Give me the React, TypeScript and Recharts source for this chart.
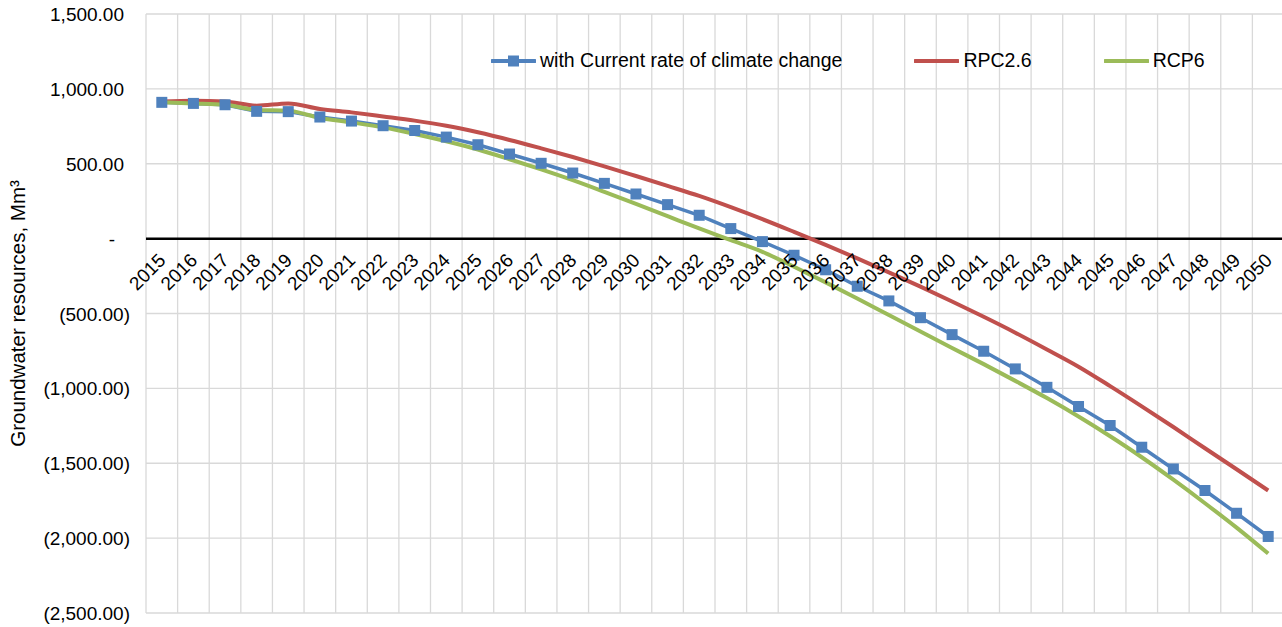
import React from "react"
import { LineChart, Line, XAxis, YAxis, CartesianGrid, ReferenceLine } from "recharts"

const years = [
  "2015", "2016", "2017", "2018", "2019", "2020", "2021", "2022", "2023", "2024", "2025", "2026",
  "2027", "2028", "2029", "2030", "2031", "2032", "2033", "2034", "2035", "2036", "2037", "2038",
  "2039", "2040", "2041", "2042", "2043", "2044", "2045", "2046", "2047", "2048", "2049", "2050",
]

const currentRate = [
  910, 903, 894, 850, 848, 812, 785, 754, 722, 678, 627, 565,
  503, 438, 369, 298, 227, 156, 67, -20, -111, -208, -318, -416,
  -528, -641, -752, -870, -993, -1121, -1248, -1393, -1538, -1682, -1834, -1989,
]

const rpc26 = [
  916, 921, 916, 888, 903, 866, 843, 816, 788, 754, 710, 659,
  603, 545, 483, 418, 352, 285, 210, 130, 45, -42, -132, -225,
  -321, -420, -522, -628, -740, -855, -985, -1120, -1258, -1400, -1540, -1682,
]

const rcp6 = [
  910, 903, 894, 859, 854, 806, 776, 743, 699, 650, 595, 530,
  462, 390, 312, 232, 150, 68, -10, -88, -188, -292, -400, -510,
  -620, -730, -838, -950, -1065, -1188, -1320, -1460, -1610, -1767, -1930, -2103,
]

const yTicks = [-2500, -2000, -1500, -1000, -500, 0, 500, 1000, 1500]

const series = [
  { key: "current", name: "with Current rate of climate change", color: "#4F81BD", marker: true },
  { key: "rpc26", name: "RPC2.6", color: "#C0504D", marker: false },
  { key: "rcp6", name: "RCP6", color: "#9BBB59", marker: false },
]

const data = years.map((year, i) => ({
  i,
  year,
  current: currentRate[i],
  rpc26: rpc26[i],
  rcp6: rcp6[i],
}))

const FONT = "'Liberation Sans', Arial, sans-serif"
const W = 1290
const H = 627
const margin = { top: 14, right: 6, bottom: 13, left: 0 }
const yMin = -2500
const yMax = 1500
const zeroY = margin.top + ((H - margin.top - margin.bottom - 1) * yMax) / (yMax - yMin)

const fmt = (v: number) =>
  Math.abs(v).toLocaleString("en-US", { minimumFractionDigits: 2, maximumFractionDigits: 2 })

const YTick = ({ x, y, payload }: any) => {
  const v = payload.value
  let label = ""
  let dx = 0
  if (v === 0) {
    label = "-"
    dx = -15
  } else if (v < 0) {
    label = `(${fmt(v)})`
  } else {
    label = fmt(v)
    dx = -6
  }
  return (
    <text x={x + dx} y={y} dy={7} textAnchor="end" fontSize={19} fontFamily={FONT} fill="#000">
      {label}
    </text>
  )
}

const XTick = ({ x, payload }: any) => (
  <text
    transform={`translate(${x + 5},${zeroY + 23}) rotate(-45)`}
    textAnchor="end"
    fontSize={19}
    fontFamily={FONT}
    fill="#000"
  >
    {years[payload.value]}
  </text>
)

const SquareDot = ({ cx, cy, fill }: any) => {
  if (cx == null || cy == null) return null
  return <rect x={cx - 5.5} y={cy - 5.5} width={11} height={11} fill={fill} />
}

const YLabel = ({ viewBox }: any) => {
  const cy = viewBox.y + viewBox.height / 2
  return (
    <text
      transform={`translate(25,${cy}) rotate(-90)`}
      textAnchor="middle"
      fontSize={20.5}
      fontFamily={FONT}
      fill="#000"
    >
      Groundwater resources, Mm³
    </text>
  )
}

// category boundaries, in x-axis units
const boundaries = years.map((_, i) => i - 0.5).concat([years.length - 0.5])

export default function App() {
  return (
    <div style={{ position: "absolute", left: 0, top: 0, width: 1282, height: H, overflow: "hidden", background: "#fff" }}>
      <LineChart width={W} height={H} data={data} margin={margin}>
        <CartesianGrid
          stroke="#D9D9D9"
          strokeWidth={1.3}
          verticalCoordinatesGenerator={({ offset }: any) =>
            boundaries.map((b) => offset.left + ((b + 0.5) * offset.width) / years.length)
          }
        />
        <XAxis
          dataKey="i"
          type="number"
          domain={[-0.5, years.length - 0.5]}
          ticks={years.map((_, i) => i)}
          interval={0}
          height={1}
          axisLine={false}
          tickLine={false}
          tick={<XTick />}
        />
        <YAxis
          domain={[yMin, yMax]}
          ticks={yTicks}
          width={146}
          axisLine={false}
          tickLine={false}
          tickSize={0}
          tickMargin={16}
          tick={<YTick />}
          label={<YLabel />}
        />
        <ReferenceLine y={0} stroke="#000" strokeWidth={2.5} />
        {series.map((s) => (
          <Line
            key={s.key}
            dataKey={s.key}
            name={s.name}
            type={s.marker ? "linear" : "monotone"}
            stroke={s.color}
            strokeWidth={s.marker ? 3.5 : 4}
            dot={s.marker ? <SquareDot fill={s.color} /> : false}
            activeDot={false}
            isAnimationActive={false}
          />
        ))}
      </LineChart>
      <div
        style={{
          position: "absolute",
          left: 491,
          top: 49,
          display: "flex",
          alignItems: "center",
          fontFamily: FONT,
          fontSize: 19.5,
          color: "#000",
          whiteSpace: "nowrap",
        }}
      >
        {series.map((s) => (
          <div key={s.key} style={{ display: "flex", alignItems: "center", marginRight: 72 }}>
            <svg width={45} height={14} style={{ marginRight: 4 }}>
              <line x1={1} y1={7} x2={44} y2={7} stroke={s.color} strokeWidth={4} strokeLinecap="round" />
              {s.marker && <rect x={17} y={1.5} width={11} height={11} fill={s.color} />}
            </svg>
            <span>{s.name}</span>
          </div>
        ))}
      </div>
    </div>
  )
}
